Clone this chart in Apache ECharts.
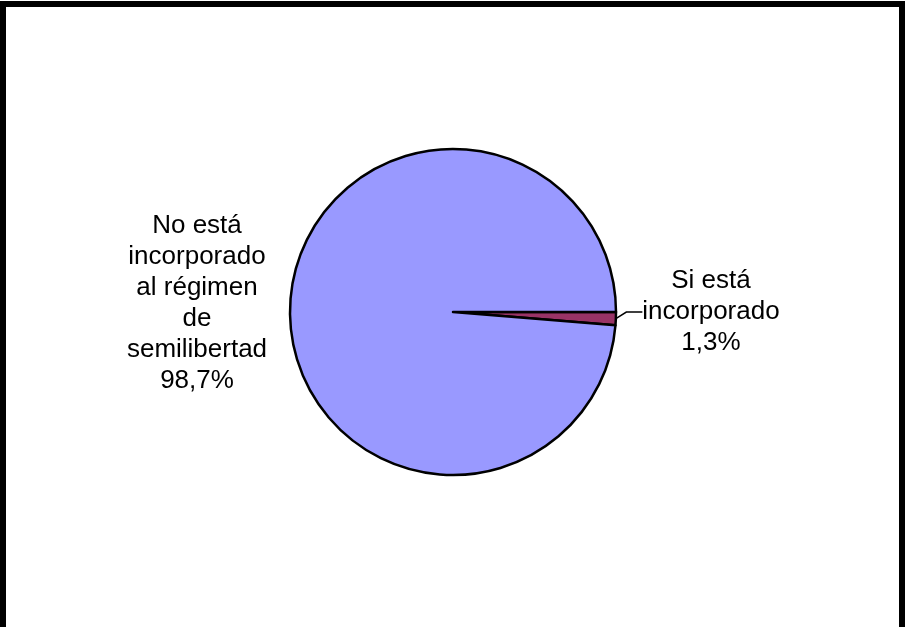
<!DOCTYPE html>
<html>
<head>
<meta charset="utf-8">
<script src="https://cdn.jsdelivr.net/npm/echarts@6/dist/echarts.min.js"></script>
<style>
html,body{margin:0;padding:0;background:#fff;}
#chart{width:906px;height:627px;}
</style>
</head>
<body>
<div id="chart"></div>
<script>
const categories = ['Si está\nincorporado', 'No está\nincorporado\nal régimen\nde\nsemilibertad'];
const values = [1.3, 98.7];
const colors = ['#993366', '#9999FF'];

const chart = echarts.init(document.getElementById('chart'), null, {renderer: 'canvas'});
const fmt = v => v.toFixed(1).replace('.', ',') + '%';

chart.setOption({
  animation: false,
  backgroundColor: '#ffffff',
  graphic: [
    {type: 'rect', shape: {x: 0, y: 1, width: 6, height: 626}, style: {fill: '#000'}},
    {type: 'rect', shape: {x: 0, y: 1, width: 905, height: 6}, style: {fill: '#000'}},
    {type: 'rect', shape: {x: 899, y: 1, width: 6, height: 626}, style: {fill: '#000'}}
  ],
  series: [{
    type: 'pie',
    center: [453, 312],
    radius: [0, 163],
    startAngle: 0,
    clockwise: true,
    avoidLabelOverlap: false,
    itemStyle: {borderColor: '#000', borderWidth: 2.5},
    label: {
      show: true,
      position: 'outside',
      fontFamily: 'Liberation Sans, Arial, sans-serif',
      fontSize: 26,
      lineHeight: 31,
      color: '#000',
      align: 'center',
      formatter: p => p.name + '\n' + fmt(p.value)
    },
    labelLine: {show: true, lineStyle: {color: '#000', width: 1.5}, length: 3, length2: 16},
    labelLayout: function (params) {
      if (params.dataIndex === 0) {
        return {x: 711, y: 312, align: 'center', verticalAlign: 'middle'};
      }
      return {x: 197, y: 303, align: 'center', verticalAlign: 'middle'};
    },
    data: categories.map((c, i) => ({
      name: c,
      value: values[i],
      itemStyle: {color: colors[i]},
      labelLine: {show: i === 0}
    }))
  }]
});
</script>
</body>
</html>
